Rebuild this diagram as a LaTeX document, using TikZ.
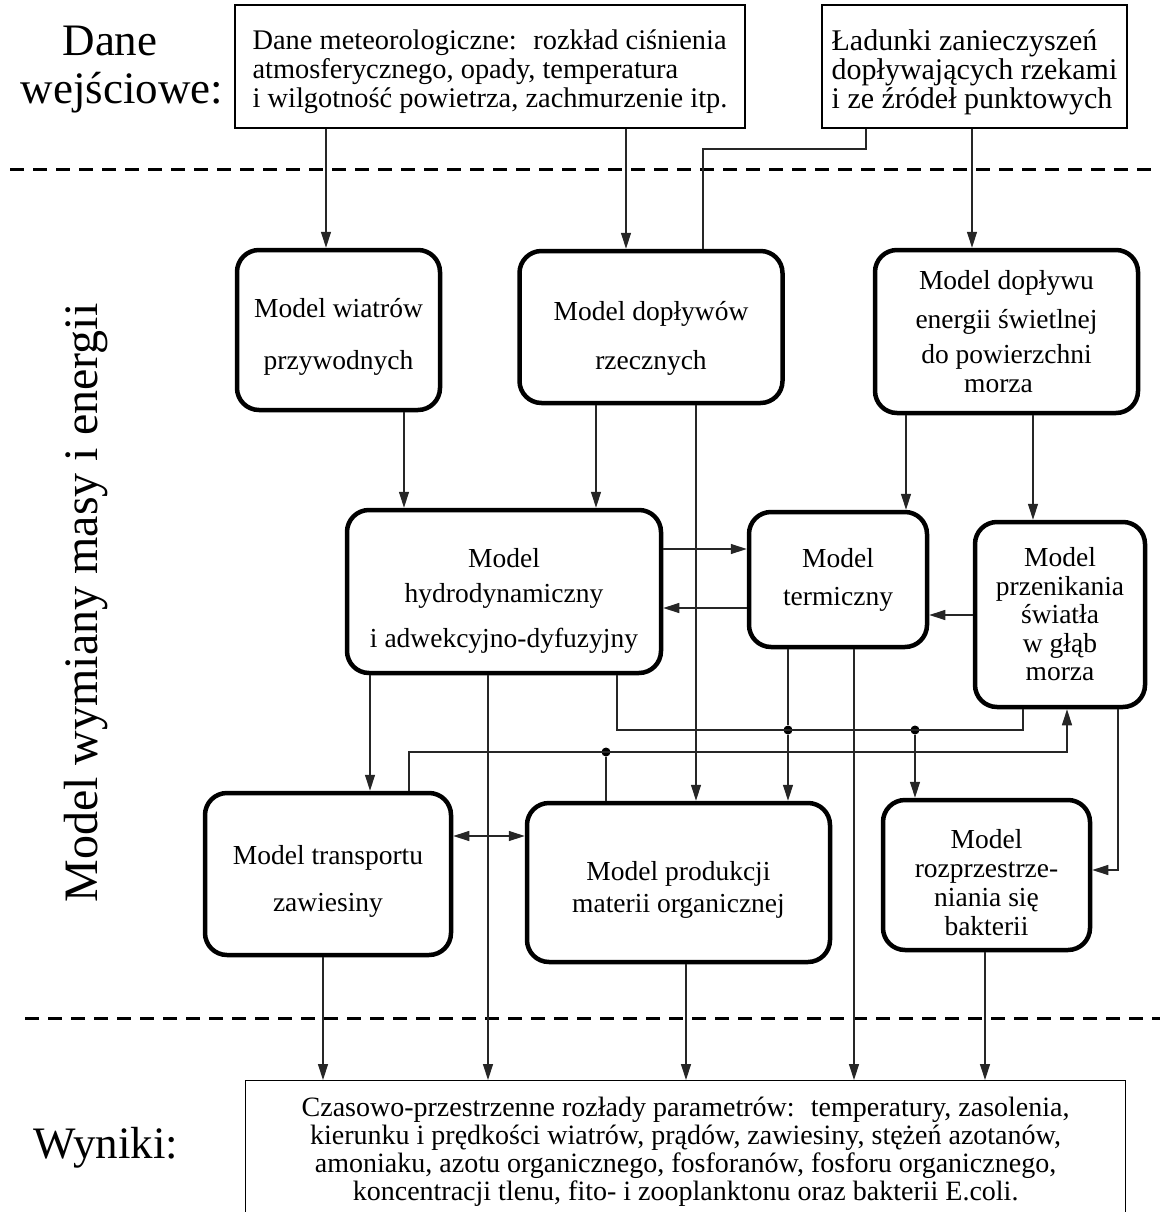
\documentclass[tikz,border=0pt]{standalone}
\usepackage{fontspec}
\setmainfont{Liberation Serif}
\usetikzlibrary{arrows.meta,calc}
\newcommand\tpad[1]{\rule{0pt}{#1}}
\begin{document}
\begin{tikzpicture}[x=1pt,y=-1pt,
  mbox/.style={draw, line width=4.5pt, rounded corners=22pt, inner sep=0pt, align=center},
  ibox/.style={draw, line width=1.2pt, inner sep=0pt},
  conn/.style={line width=1.3pt, black!85},
  arr/.style={conn, -{Triangle[length=16pt,width=10pt]}},
  darr/.style={conn, {Triangle[length=16pt,width=10pt]}-{Triangle[length=16pt,width=10pt]}},
  sep/.style={line width=3pt, dash pattern=on 14pt off 9pt},
  jdot/.style={circle, fill=black, inner sep=0pt, minimum size=9pt},
  big/.style={font=\fontsize{45}{50}\selectfont},
]
\useasboundingbox (0,0) rectangle (1160,1212);

% separators
\coordinate (s1a) at (10,169); \coordinate (s1b) at (1160,169);
\coordinate (s2a) at (25,1018); \coordinate (s2b) at (1160,1018);
\draw[sep] (s1a) -- (s1b);
\draw[sep] (s2a) -- (s2b);

% labels
\node[big, anchor=base] (dane) at (110,56) {Dane};
\node[big, anchor=base] (wej) at (122,104) {wejściowe:};
\node[big, anchor=base] (wyn) at (106,1158) {Wyniki:};
\node[rotate=90, font=\fontsize{48}{50}\selectfont] (side) at (86,603) {Model wymiany masy i energii};

% input boxes
\node[ibox, minimum width=510pt, minimum height=123pt, align=left, font=\fontsize{28.4}{29}\selectfont] (meteo) at (490,66.5)
  {\tpad{31pt}Dane meteorologiczne:~ rozkład ciśnienia\\atmosferycznego, opady, temperatura\\i wilgotność powietrza, zachmurzenie itp.};
\node[ibox, minimum width=305pt, minimum height=123pt, align=left, font=\fontsize{30}{29}\selectfont] (lad) at (974.5,66.5)
  {\tpad{32pt}Ładunki zanieczyszeń\\dopływających rzekami\\i ze źródeł punktowych};

% model boxes
\node[mbox, minimum width=203pt, minimum height=160pt, font=\fontsize{27.5}{52}\selectfont] (wind) at (338.5,330) {\tpad{32pt}Model wiatrów\\przywodnych};
\node[mbox, minimum width=263pt, minimum height=152pt, font=\fontsize{27.5}{49}\selectfont] (dopl) at (651,327) {\tpad{42pt}Model dopływów\\rzecznych};
\node[mbox, minimum width=263pt, minimum height=163pt, font=\fontsize{27.5}{33}\selectfont] (light) at (1006.5,331.5) {Model dopływu\\[6pt]energii świetlnej\\[2pt]do powierzchni\\[-4pt]morza\hspace*{16pt}};
\node[mbox, minimum width=314pt, minimum height=163pt, font=\fontsize{27.5}{35}\selectfont] (hydro) at (504,591.5) {\tpad{37pt}Model\\hydrodynamiczny\\[10pt]i adwekcyjno-dyfuzyjny};
\node[mbox, minimum width=178pt, minimum height=135pt, font=\fontsize{27.5}{38}\selectfont] (term) at (838,579.5) {Model\\termiczny};
\node[mbox, minimum width=170pt, minimum height=185pt, font=\fontsize{27.5}{28.5}\selectfont] (przen) at (1060,614.5) {Model\\przenikania\\światła\\w głąb\\morza};
\node[mbox, minimum width=246pt, minimum height=162pt, font=\fontsize{27.5}{47}\selectfont] (transp) at (328,874) {\tpad{33pt}Model transportu\\zawiesiny};
\node[mbox, minimum width=303pt, minimum height=159pt, font=\fontsize{27.5}{32}\selectfont] (prod) at (678.5,882.5) {\tpad{33pt}Model produkcji\\materii organicznej};
\node[mbox, minimum width=207pt, minimum height=150pt, font=\fontsize{27.5}{29}\selectfont] (bakt) at (986.5,875) {\tpad{35pt}Model\\rozprzestrze-\\niania się\\bakterii};

% output box
\node[ibox, anchor=north west, minimum width=880pt, minimum height=143pt, align=center, font=\fontsize{28}{28}\selectfont] (out) at (245,1080)
  {Czasowo-przestrzenne rozłady parametrów:~ temperatury, zasolenia,\\kierunku i prędkości wiatrów, prądów, zawiesiny, stężeń azotanów,\\amoniaku, azotu organicznego, fosforanów, fosforu organicznego,\\koncentracji tlenu, fito- i zooplanktonu oraz bakterii E.coli.};

% x positions
\coordinate (x323) at (323,0);
\coordinate (x326) at (326,0);
\coordinate (x370) at (370,0);
\coordinate (x404) at (404,0);
\coordinate (x409) at (409,0);
\coordinate (x488) at (488,0);
\coordinate (x596) at (596,0);
\coordinate (x606) at (606,0);
\coordinate (x617) at (617,0);
\coordinate (x626) at (626,0);
\coordinate (x686) at (686,0);
\coordinate (x696) at (696,0);
\coordinate (x703) at (703,0);
\coordinate (x788) at (788,0);
\coordinate (x854) at (854,0);
\coordinate (x866) at (866,0);
\coordinate (x906) at (906,0);
\coordinate (x915) at (915,0);
\coordinate (x972) at (972,0);
\coordinate (x985) at (985,0);
\coordinate (x1023) at (1023,0);
\coordinate (x1033) at (1033,0);
\coordinate (x1067) at (1067,0);
\coordinate (x1118) at (1118,0);
\coordinate (y149) at (0,149);
\coordinate (y549) at (0,549);
\coordinate (y608) at (0,608);
\coordinate (y615) at (0,615);
\coordinate (y730) at (0,730);
\coordinate (y752) at (0,752);
\coordinate (y836) at (0,836);
\coordinate (y870) at (0,870);

% junctions
\node[jdot] (j1) at (788,730) {};
\node[jdot] (j2) at (915,730) {};
\node[jdot] (j3) at (606,752) {};

% top connectors
\draw[arr] (meteo.south -| x326) -- (wind.north -| x326);
\draw[arr] (meteo.south -| x626) -- (dopl.north -| x626);
\draw[conn] (lad.south -| x866) -- (x866 |- y149) -- (x703 |- y149) -- (dopl.north -| x703);
\draw[arr] (lad.south -| x972) -- (light.north -| x972);

% second level
\draw[arr] (wind.south -| x404) -- (hydro.north -| x404);
\draw[arr] (dopl.south -| x596) -- (hydro.north -| x596);
\draw[arr] (dopl.south -| x696) -- (prod.north -| x696);
\draw[arr] (light.south -| x906) -- (term.north -| x906);
\draw[arr] (light.south -| x1033) -- (przen.north -| x1033);

% horizontal links
\draw[arr] (hydro.east |- y549) -- (term.west |- y549);
\draw[arr] (term.west |- y608) -- (hydro.east |- y608);
\draw[arr] (przen.west |- y615) -- (term.east |- y615);

% lower network
\draw[arr] (hydro.south -| x370) -- (transp.north -| x370);
\draw[arr] (hydro.south -| x488) -- (out.north -| x488);
\draw[conn] (hydro.south -| x617) -- (x617 |- y730) -- (x1023 |- y730) -- (przen.south -| x1023);
\draw[arr] (term.south -| x788) -- (j1) -- (prod.north -| x788);
\draw[arr] (j2) -- (bakt.north -| x915);
\draw[arr] (term.south -| x854) -- (out.north -| x854);
\draw[arr] (transp.north -| x409) -- (x409 |- y752) -- (x1067 |- y752) -- (przen.south -| x1067);
\draw[conn] (j3) -- (prod.north -| x606);
\draw[arr] (przen.south -| x1118) -- (x1118 |- y870) -- (bakt.east |- y870);
\draw[darr] (transp.east |- y836) -- (prod.west |- y836);

% to outputs
\draw[arr] (transp.south -| x323) -- (out.north -| x323);
\draw[arr] (prod.south -| x686) -- (out.north -| x686);
\draw[arr] (bakt.south -| x985) -- (out.north -| x985);
\end{tikzpicture}
\end{document}
